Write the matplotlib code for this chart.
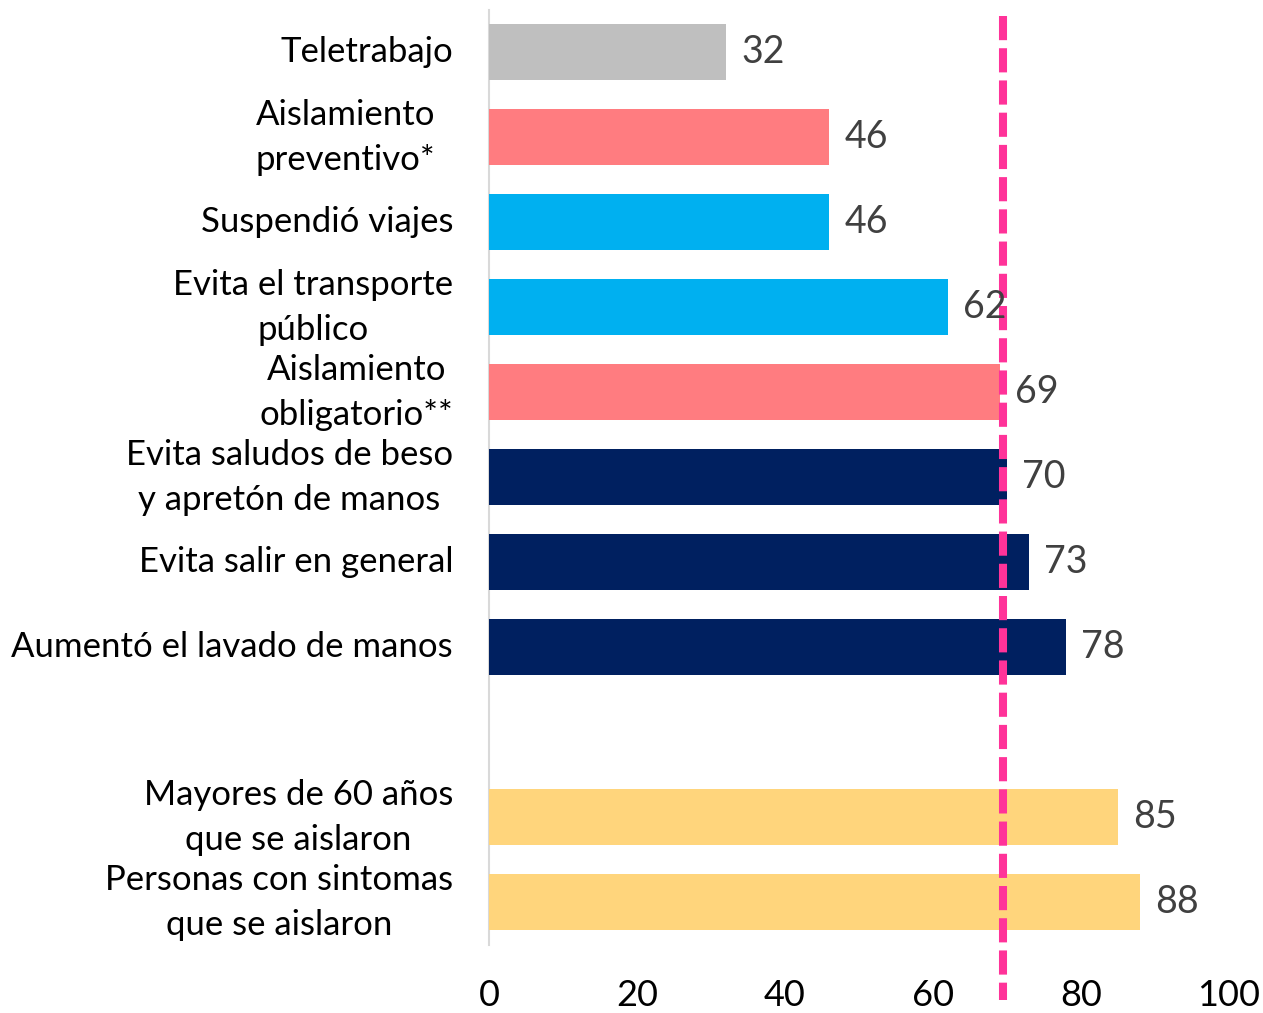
import matplotlib
matplotlib.use("Agg")
import matplotlib.pyplot as plt
import matplotlib.transforms as mtransforms

plt.rcParams['font.family'] = ['Lato', 'DejaVu Sans']

categories = [
    "Teletrabajo",
    "Aislamiento\npreventivo*",
    "Suspendió viajes",
    "Evita el transporte\npúblico",
    "Aislamiento\nobligatorio**",
    "Evita saludos de beso\ny apretón de manos",
    "Evita salir en general",
    "Aumentó el lavado de manos",
    "Mayores de 60 años\nque se aislaron",
    "Personas con sintomas\nque se aislaron",
]
values = [32, 46, 46, 62, 69, 70, 73, 78, 85, 88]
positions = [0, 1, 2, 3, 4, 5, 6, 7, 9, 10]
colors = ["#BFBFBF", "#FF7C80", "#00B0F0", "#00B0F0", "#FF7C80",
          "#002060", "#002060", "#002060", "#FFD57C", "#FFD57C"]
label_offsets_px = [36, 54, 36, 36, 36, 36, 36, 36, 36, 36]
reference_value = 69.5
xticks = [0, 20, 40, 60, 80, 100]

dpi = 100
fig = plt.figure(figsize=(12.63, 10.13), dpi=dpi)
ax = fig.add_axes([0.3872, 0.0676, 0.973 - 0.3872, 0.9906 - 0.0676])

ax.barh(positions, values, height=0.66, color=colors, zorder=2)
ax.set_xlim(0, 100)
ax.set_ylim(10.5, -0.5)

for p, v in zip(positions, values):
    ax.annotate(str(v), xy=(v, p), xytext=(11, 0), textcoords='offset points',
                ha='left', va='center', fontsize=27, color='#404040', zorder=4)

for p, lab, off in zip(positions, categories, label_offsets_px):
    tr = mtransforms.offset_copy(ax.get_yaxis_transform(), fig=fig,
                                 x=-off / dpi, y=0, units='inches')
    ax.text(0, p, lab, transform=tr, ha='right', va='center',
            multialignment='center', fontsize=25, color='black',
            linespacing=1.5)

ax.plot([reference_value, reference_value], [0.993, -0.059],
        transform=ax.get_xaxis_transform(), clip_on=False,
        color='#FF3399', lw=5.8, dashes=(3, 1.0), solid_capstyle='butt',
        dash_capstyle='butt', zorder=3)

ax.set_yticks([])
ax.set_xticks(xticks)
ax.set_xticklabels([str(t) for t in xticks], fontsize=26, color='black')
ax.tick_params(axis='x', length=0, pad=25)
for s in ['top', 'right', 'bottom']:
    ax.spines[s].set_visible(False)
ax.spines['left'].set_color('#D9D9D9')
ax.spines['left'].set_linewidth(1.5)
ax.spines['left'].set_zorder(1)

fig.savefig("out.png", dpi=dpi, facecolor='white')
